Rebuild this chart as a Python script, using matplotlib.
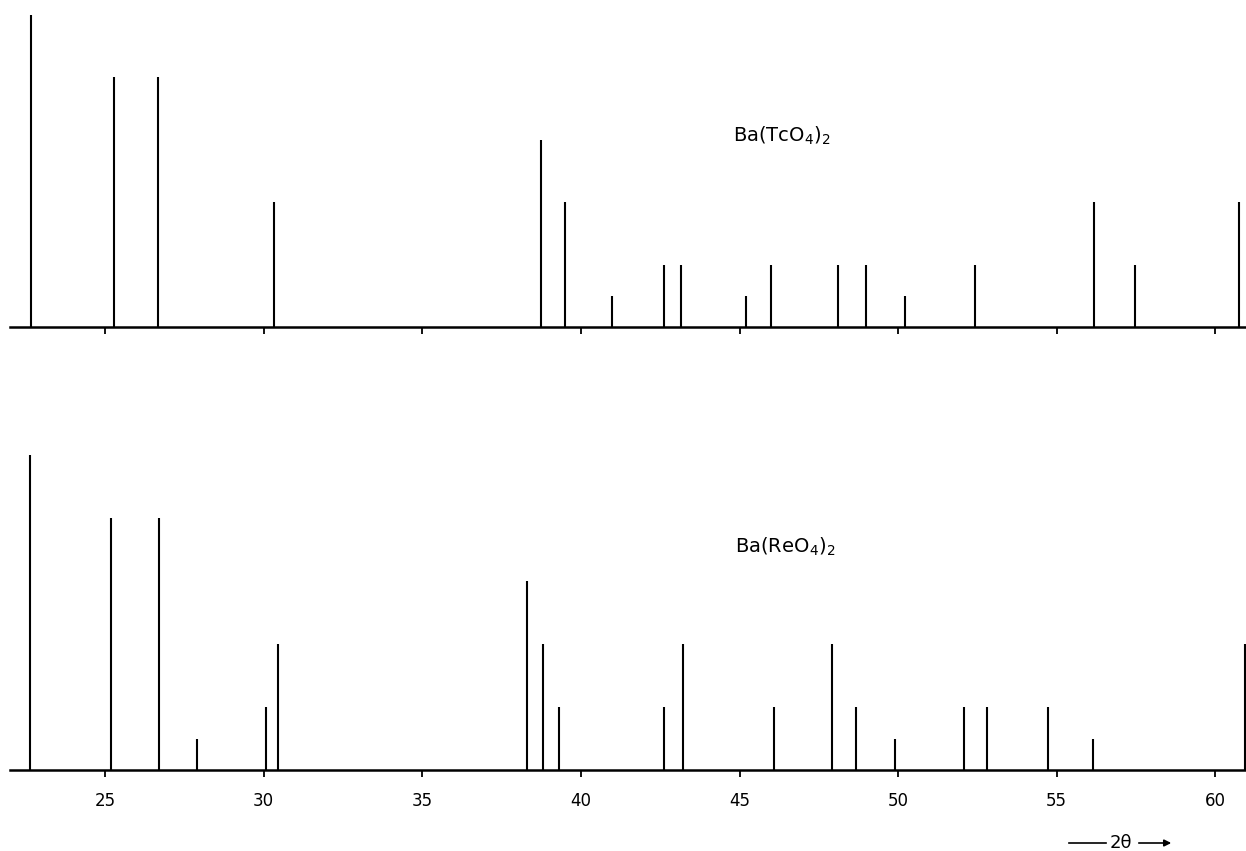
import matplotlib
matplotlib.use("Agg")
import matplotlib.pyplot as plt

# Ba(TcO4)2 stick pattern (2theta, relative intensity)
tc_2theta = [22.67, 25.28, 26.67, 30.33, 38.74, 39.49, 40.99, 42.63, 43.17,
             45.19, 46.00, 48.11, 48.99, 50.21, 52.43, 56.17, 57.46, 60.76]
tc_int = [100, 80, 80, 40, 60, 40, 10, 20, 20,
          10, 20, 20, 20, 10, 20, 40, 20, 40]

# Ba(ReO4)2 stick pattern
re_2theta = [22.63, 25.17, 26.69, 27.88, 30.07, 30.45, 38.29, 38.82, 39.32,
             42.62, 43.22, 46.08, 47.92, 48.68, 49.89, 52.07, 52.80, 54.74,
             56.16, 60.94]
re_int = [100, 80, 80, 10, 20, 40, 60, 40, 20,
          20, 40, 20, 40, 20, 10, 20, 20, 20,
          10, 40]

xticks = [25, 30, 35, 40, 45, 50, 55, 60]
xlim = (22.0, 61.0)

W, H = 1246, 851
fig = plt.figure(figsize=(W / 100, H / 100), dpi=100)

def px_axes(left, base_y, top_y, right):
    return [left / W, 1 - base_y / H, (right - left) / W, (base_y - top_y) / H]

ax1 = fig.add_axes(px_axes(10, 327, 15, 1247))
ax2 = fig.add_axes(px_axes(10, 770, 455, 1247))

for ax, xs, ys in ((ax1, tc_2theta, tc_int), (ax2, re_2theta, re_int)):
    ax.vlines(xs, 0, ys, colors="black", linewidth=1.5, clip_on=False)
    ax.set_xlim(*xlim)
    ax.set_ylim(0, 100)
    for s in ("top", "left", "right"):
        ax.spines[s].set_visible(False)
    ax.spines["bottom"].set_linewidth(1.8)
    ax.set_yticks([])
    ax.set_xticks(xticks)
    ax.tick_params(axis="x", direction="out", length=5, width=1.3,
                   labelsize=12, pad=11)
    ax.set_facecolor("none")

ax1.tick_params(axis="x", labelbottom=False)

ax1.text(44.8, 59.3, r"Ba(TcO$_4$)$_2$", fontsize=14, ha="left", va="baseline")
ax2.text(44.87, 69.0, r"Ba(ReO$_4$)$_2$", fontsize=14, ha="left", va="baseline")

# 2θ axis caption with arrows
fig.text(1121 / W, 1 - 843 / H, "2θ", fontsize=13, ha="center", va="center")
fig.add_artist(plt.Line2D([1069 / W, 1106 / W], [1 - 843 / H, 1 - 843 / H],
                          color="black", linewidth=1.2))
fig.patches.append(matplotlib.patches.FancyArrowPatch(
    (1136 / W, 1 - 843 / H), (1174 / W, 1 - 843 / H),
    transform=fig.transFigure, arrowstyle="-|>", mutation_scale=10,
    color="black", linewidth=1.2))

fig.savefig("out.png", dpi=100, facecolor="white")
